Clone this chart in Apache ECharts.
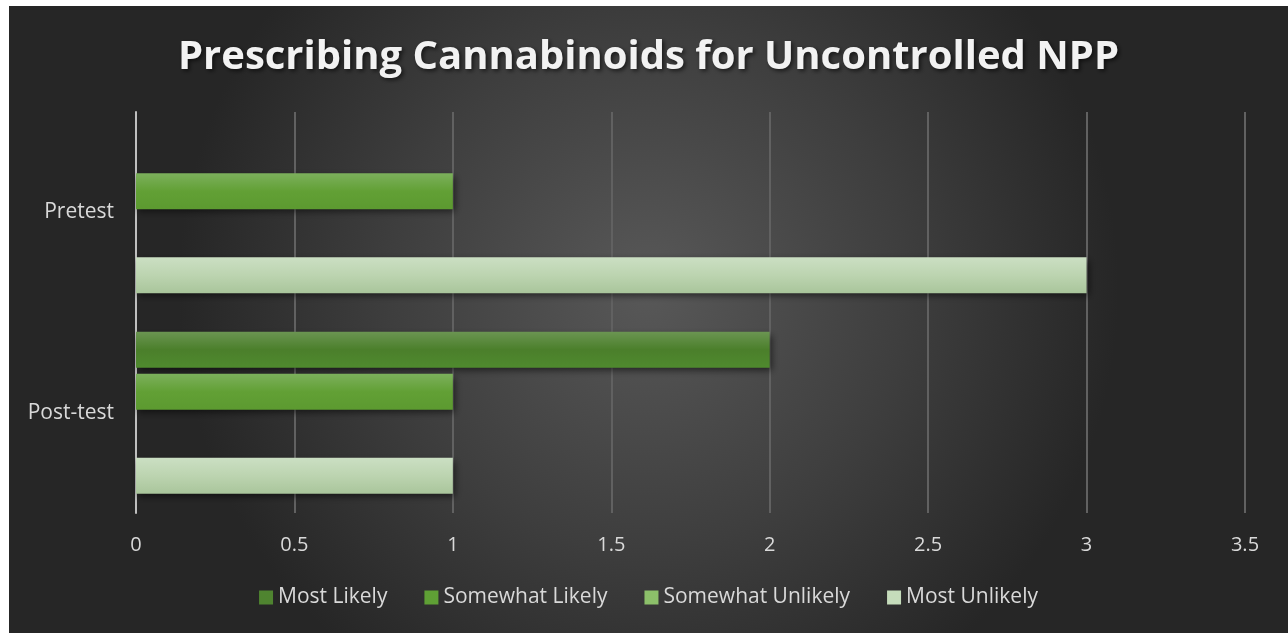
<!DOCTYPE html>
<html>
<head>
<meta charset="utf-8">
<script src="https://cdn.jsdelivr.net/npm/echarts@6/dist/echarts.min.js"></script>
<style>
html,body{margin:0;padding:0;background:#fff;}
#c{position:absolute;left:9px;top:6px;width:1279px;height:627px;}
</style>
</head>
<body>
<div id="c"></div>
<script>
const titleText = 'Prescribing Cannabinoids for Uncontrolled NPP';
const categories = ['Post-test', 'Pretest'];
const seriesNames = ['Most Likely', 'Somewhat Likely', 'Somewhat Unlikely', 'Most Unlikely'];
const mostLikely = [2, 0];
const somewhatLikely = [1, 1];
const somewhatUnlikely = [0, 0];
const mostUnlikely = [1, 3];
const xTicks = [0, 0.5, 1, 1.5, 2, 2.5, 3, 3.5];

const seriesData = [mostLikely, somewhatLikely, somewhatUnlikely, mostUnlikely];
const colorStops = [
  ['#6b9552', '#4b7f2b', '#4f8a2e'],
  ['#7cb05c', '#62a035', '#5c9a30'],
  ['#a2cc88', '#88bd66', '#7fb45e'],
  ['#cbdfc3', '#bcd4b0', '#a9c59b']
];
const legendColors = ['#4f8430', '#5fa035', '#8cc06a', '#c5dcbb'];

const chart = echarts.init(document.getElementById('c'));
const series = seriesNames.map((name, i) => ({
  name: name,
  type: 'bar',
  data: seriesData[i],
  barWidth: 36,
  barGap: '16.7%',
  itemStyle: {
    color: new echarts.graphic.LinearGradient(0, 0, 0, 1, [
      {offset: 0, color: colorStops[i][0]},
      {offset: 0.5, color: colorStops[i][1]},
      {offset: 1, color: colorStops[i][2]}
    ]),
    shadowColor: 'rgba(0,0,0,0.55)',
    shadowBlur: 7,
    shadowOffsetX: 2,
    shadowOffsetY: 3
  },
  emphasis: {disabled: true}
}));

chart.setOption({
  backgroundColor: new echarts.graphic.RadialGradient(0.5, 0.45, 0.75, [
    {offset: 0, color: '#585858'},
    {offset: 0.55, color: '#3e3e3e'},
    {offset: 1, color: '#262626'}
  ]),
  animation: false,
  title: {
    text: titleText,
    left: 'center',
    top: 27,
    textStyle: {
      color: '#f2f2f2',
      fontFamily: 'Open Sans',
      fontWeight: 'bold',
      fontSize: 40,
      textShadowColor: 'rgba(0,0,0,0.6)',
      textShadowBlur: 4,
      textShadowOffsetX: 2,
      textShadowOffsetY: 2
    }
  },
  legend: {
    bottom: 20,
    left: 'center',
    itemWidth: 14,
    itemHeight: 14,
    itemGap: 37,
    icon: 'rect',
    textStyle: {color: '#d9d9d9', fontSize: 21, fontFamily: 'Open Sans', padding: [0, 0, 0, 0]},
    data: seriesNames.map((n, i) => ({name: n, itemStyle: {color: legendColors[i]}}))
  },
  grid: {left: 127, right: 43, top: 106, bottom: 120, containLabel: false},
  xAxis: {
    type: 'value',
    min: 0,
    max: 3.5,
    interval: 0.5,
    axisLine: {show: false},
    axisTick: {show: false},
    splitLine: {lineStyle: {color: '#616161', width: 2}},
    axisLabel: {
      color: '#d9d9d9', fontSize: 20, fontFamily: 'Open Sans', margin: 22,
      formatter: v => xTicks.includes(v) ? String(v) : ''
    }
  },
  yAxis: {
    type: 'category',
    data: categories,
    axisLine: {show: true, lineStyle: {color: '#bfbfbf', width: 2}},
    axisTick: {show: false},
    axisLabel: {color: '#d9d9d9', fontSize: 21, fontFamily: 'Open Sans', margin: 22}
  },
  series: series
});
</script>
</body>
</html>
